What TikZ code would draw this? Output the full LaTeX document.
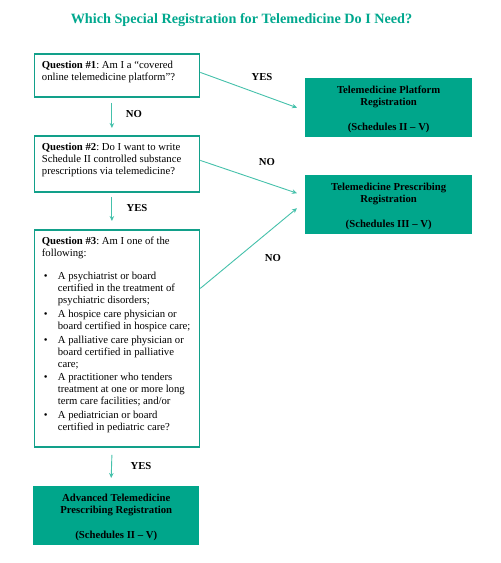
\documentclass[tikz,border=0pt]{standalone}
\usepackage{fontspec}
\setmainfont{Liberation Serif}
\usetikzlibrary{arrows.meta}
\definecolor{tealfill}{HTML}{00A68B}
\definecolor{tealtitle}{HTML}{00A88E}
\definecolor{tealborder}{HTML}{12A08A}
\definecolor{tealline}{HTML}{45C1AB}
\newcommand{\bul}[1]{\makebox[16pt][l]{\hspace{2pt}\textbullet}\parbox[t]{140pt}{#1}}
\frenchspacing
\begin{document}
\begin{tikzpicture}[x=1pt,y=-1pt,
  qbox/.style={draw=tealborder, line width=1.8pt, fill=white, anchor=north west,
    inner xsep=7.5pt, inner ysep=6pt, align=left},
  rbox/.style={fill=tealfill, anchor=north west, inner xsep=0pt, inner ysep=6.5pt, align=center},
  conn/.style={draw=tealline, line width=0.9pt, -{Stealth[length=5pt,width=4.5pt]}},
  lab/.style={font=\bfseries\fontsize{10.7}{12}\selectfont, text=black}]
\useasboundingbox (0,0) rectangle (501,563);
\fill[white] (0,0) rectangle (501,563);

\node[font=\bfseries\fontsize{14.2}{17}\selectfont, text=tealtitle] (title) at (241.5,20)
  {Which Special Registration for Telemedicine Do I Need?};

\node[qbox] (q1) at (33.5,53) {\parbox[c][31pt][t]{150pt}{\fontsize{10.7}{12}\selectfont\strut
  \textbf{Question \#1}: Am I a “covered\\ online telemedicine platform”?}};

\node[qbox] (q2) at (33.5,135) {\parbox[c][44pt][t]{150pt}{\fontsize{10.7}{12}\selectfont\strut
  \textbf{Question \#2}: Do I want to write\\ Schedule II controlled substance\\ prescriptions via telemedicine?}};

\node[qbox] (q3) at (33.5,229) {\parbox[c][205pt][t]{150pt}{\fontsize{10.7}{12}\selectfont\strut
  \textbf{Question \#3}: Am I one of the\\ following:\\[11.5pt]
  \bul{A psychiatrist or board\\ certified in the treatment of\\ psychiatric disorders;}\\[3.2pt]
  \bul{A hospice care physician or\\ board certified in hospice care;}\\[3.2pt]
  \bul{A palliative care physician or\\ board certified in palliative\\ care;}\\[3.2pt]
  \bul{A practitioner who tenders\\ treatment at one or more long\\ term care facilities; and/or}\\[3.2pt]
  \bul{A pediatrician or board\\ certified in pediatric care?}}};

\node[rbox] (plat) at (305,78) {\parbox[c][46pt][t]{167pt}{\centering\bfseries\fontsize{10.7}{12.3}\selectfont\strut
  Telemedicine Platform\\ Registration\\[12.3pt] (Schedules II – V)}};

\node[rbox] (presc) at (305,175) {\parbox[c][46pt][t]{167pt}{\centering\bfseries\fontsize{10.7}{12.3}\selectfont\strut
  Telemedicine Prescribing\\ Registration\\[12.3pt] (Schedules III – V)}};

\node[rbox] (adv) at (33,486) {\parbox[c][46pt][t]{166pt}{\centering\bfseries\fontsize{10.7}{12.3}\selectfont\strut
  Advanced Telemedicine\\ Prescribing Registration\\[12.3pt] (Schedules II – V)}};

\draw[conn] ([yshift=3pt]q1.east) -- ([xshift=-8pt]plat.west);
\draw[conn] ([yshift=3.5pt]q2.east) -- ([xshift=-8pt,yshift=11.5pt]presc.west);
\draw[conn] ([yshift=50pt]q3.east) -- ([xshift=-8pt,yshift=-3.5pt]presc.west);
\draw[conn] ([xshift=-5pt,yshift=-5pt]q1.south) -- ([xshift=-5pt,yshift=7pt]q2.north);
\draw[conn] ([xshift=-5pt,yshift=-4pt]q2.south) -- ([xshift=-5pt,yshift=8pt]q3.north);
\draw[conn] ([xshift=-5pt,yshift=-7pt]q3.south) -- ([xshift=-5pt,yshift=8pt]adv.north);

\node[lab] (l1) at (262,77) {YES};
\node[lab] (l2) at (134,114) {NO};
\node[lab] (l3) at (267,162) {NO};
\node[lab] (l4) at (137,208) {YES};
\node[lab] (l5) at (273,258) {NO};
\node[lab] (l6) at (141,466) {YES};
\end{tikzpicture}
\end{document}
